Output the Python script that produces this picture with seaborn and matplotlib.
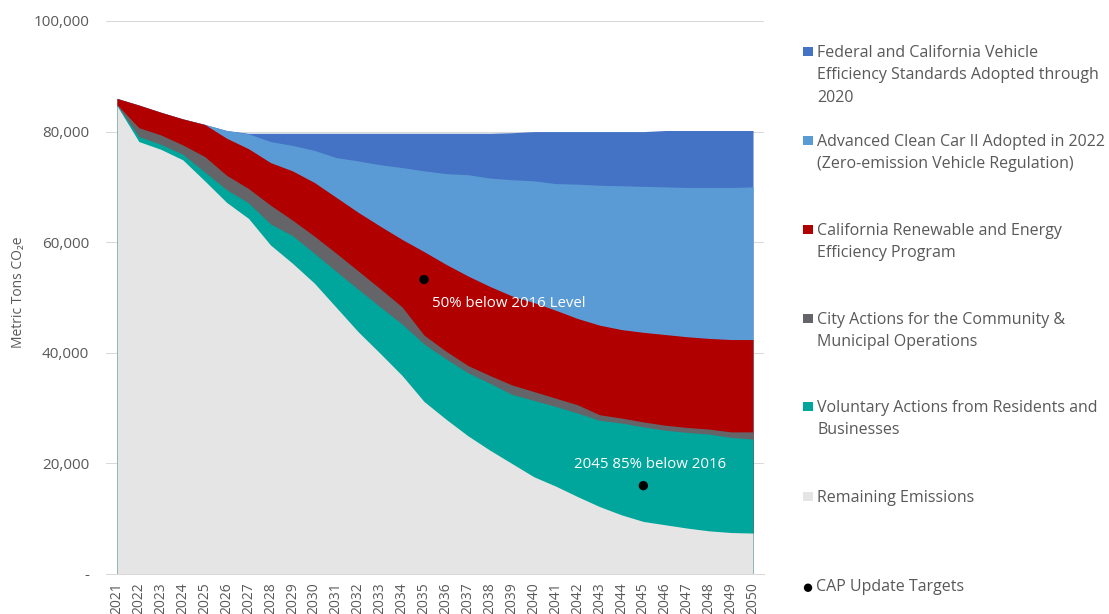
import numpy as np
import pandas as pd
import matplotlib
matplotlib.use("Agg")
import matplotlib.pyplot as plt
import seaborn as sns
from matplotlib.ticker import FuncFormatter, FixedLocator

# ---------------- data ----------------
years = list(range(2021, 2051))
remaining = [84700, 78200, 76800, 74900, 71100, 67200, 64300, 59500, 56200, 52600,
             48200, 43800, 39900, 35900, 31200, 28000, 25000, 22400, 20000, 17600,
             15900, 14000, 12200, 10700, 9500, 8900, 8300, 7800, 7500, 7400]
voluntary = [100, 900, 900, 1000, 1600, 2300, 2800, 3800, 5000, 5400,
             6500, 7700, 8400, 9300, 10400, 10900, 11400, 12100, 12500, 13800,
             14400, 15100, 15600, 16600, 17100, 17100, 17300, 17500, 17200, 17000]
city = [100, 1600, 1700, 1700, 2800, 2600, 2600, 3400, 2800, 3100,
        3300, 3300, 3300, 3100, 1600, 1400, 1300, 1400, 1700, 1600,
        1500, 1500, 1000, 900, 900, 900, 900, 900, 1000, 1300]
renewable = [1100, 4100, 4100, 4700, 5800, 6700, 7200, 7700, 8900, 9700,
             10100, 10600, 11300, 12200, 15100, 15700, 16200, 16100, 16100, 16100,
             15900, 15600, 16200, 16000, 16200, 16400, 16400, 16400, 16700, 16700]
acc2 = [0, 0, 0, 0, 0, 1400, 2700, 3800, 4600, 5800,
        7200, 9300, 11100, 13000, 14600, 16400, 18300, 19600, 21000, 22000,
        22900, 24300, 25300, 26000, 26400, 26700, 27000, 27300, 27500, 27600]
federal = [0, 0, 0, 0, 0, 0, 100, 1500, 2200, 3100,
           4400, 5000, 5700, 6200, 6800, 7300, 7500, 8100, 8500, 8900,
           9400, 9500, 9700, 9800, 9900, 10200, 10300, 10300, 10300, 10200]

target_years = [2035, 2045]
target_values = [53250, 15975]
target_labels = ["50% below 2016 Level", "2045 85% below 2016"]

series_labels = [
    "Remaining Emissions",
    "Voluntary Actions from Residents and\nBusinesses",
    "City Actions for the Community &\nMunicipal Operations",
    "California Renewable and Energy\nEfficiency Program",
    "Advanced Clean Car II Adopted in 2022\n(Zero-emission Vehicle Regulation)",
    "Federal and California Vehicle\nEfficiency Standards Adopted through\n2020",
]
target_legend = "CAP Update Targets"
y_ticks = [0, 20000, 40000, 60000, 80000, 100000]
y_label = "Metric Tons CO\u2082e"

series_colors = ["#e5e5e5", "#00a59b", "#646469", "#b00000", "#5b9bd5", "#4472c4"]
text_gray = "#595959"
grid_gray = "#d9d9d9"

df = pd.DataFrame({
    "remaining": remaining, "voluntary": voluntary, "city": city,
    "renewable": renewable, "acc2": acc2, "federal": federal,
}, index=years)
targets = pd.DataFrame({"year": target_years, "value": target_values})

# ---------------- style ----------------
sns.set_theme(style="white")
plt.rcParams["font.family"] = ["Open Sans", "DejaVu Sans"]

W, H = 1109, 614
fig = plt.figure(figsize=(W / 100, H / 100), dpi=100)
ax = fig.add_axes([106 / W, 1 - 574 / H, 658 / W, 553 / H])

# stacked areas drawn as cumulative fills (top layer first, to avoid seams)
cum = df.cumsum(axis=1)
handles = []
cols = list(df.columns)
for i in range(len(cols) - 1, -1, -1):
    h = ax.fill_between(df.index, 0, cum[cols[i]], color=series_colors[i],
                        linewidth=0, label=series_labels[i], zorder=2)
    handles.append(h)
handles = handles[::-1]  # bottom..top order

# targets
sns.scatterplot(data=targets, x="year", y="value", ax=ax, color="black",
                s=45, edgecolor="none", zorder=5, label=target_legend, legend=False)
dot_handle = ax.collections[-1]

ax.annotate(target_labels[0], xy=(target_years[0], target_values[0]),
            xytext=(6, -17), textcoords="offset points", ha="left", va="center",
            color="white", fontsize=10.8, zorder=6)
ax.annotate(target_labels[1], xy=(target_years[1], target_values[1]),
            xytext=(5, 15), textcoords="offset points", ha="center", va="center",
            color="white", fontsize=10.8, zorder=6)

# axes
ax.set_xlim(years[0] - 0.5, years[-1] + 0.5)
ax.set_ylim(0, 100000)
ax.yaxis.set_major_locator(FixedLocator(y_ticks))
ax.yaxis.set_major_formatter(FuncFormatter(lambda v, p: "-" if v == 0 else f"{v:,.0f}"))
ax.xaxis.set_minor_locator(FixedLocator([y - 0.5 for y in years] + [years[-1] + 0.5]))
ax.set_xticks(years)
ax.set_xticklabels([str(y) for y in years], rotation=90)

ax.grid(axis="y", color=grid_gray, linewidth=0.75, zorder=0)
ax.grid(axis="x", visible=False)
ax.set_axisbelow(True)
for s in ["left", "right", "top"]:
    ax.spines[s].set_visible(False)
ax.spines["bottom"].set_color(grid_gray)
ax.spines["bottom"].set_linewidth(0.75)

ax.tick_params(axis="y", length=0, pad=12, labelsize=11, labelcolor=text_gray)
ax.tick_params(axis="x", which="major", length=0, pad=6, labelsize=10, labelcolor=text_gray)
ax.tick_params(axis="x", which="minor", length=4.5, width=0.75, color=grid_gray, direction="out")

ax.set_xlabel("")
ax.set_ylabel(y_label, fontsize=10, color=text_gray)
ax.yaxis.set_label_coords(-0.121, 0.51)

# legend: one block per entry, handle aligned with the first text line
legend_order = [handles[5], handles[4], handles[3], handles[2], handles[1], handles[0], dot_handle]
legend_text = [series_labels[5], series_labels[4], series_labels[3], series_labels[2],
               series_labels[1], series_labels[0], target_legend]
first_line_y = [51, 140, 229, 318, 406, 496, 585]
leg_fs = 11.5
fs_px = leg_fs * 100 / 72
shift_pt = 1.7
for hnd, lab, yy in zip(legend_order, legend_text, first_line_y):
    is_dot = hnd is dot_handle
    top_px = yy - 0.403 * fs_px
    leg = fig.legend([hnd], [lab], loc="upper left",
                     bbox_to_anchor=(803 / W, 1 - top_px / H), frameon=False,
                     borderpad=0, borderaxespad=0, handlelength=0.63,
                     handleheight=0.5, handletextpad=0.25 if not is_dot else 0.2,
                     fontsize=leg_fs, labelcolor=text_gray, markerscale=0.9)
    for t in leg.get_texts():
        t.set_linespacing(1.56)
    for col in leg._legend_handle_box.get_children():
        for item in col.get_children():
            item.align = "top"
    lh = leg.legend_handles[0]
    if is_dot:
        offs = np.asarray(lh.get_offsets(), dtype=float)
        offs[:, 1] -= shift_pt
        lh.set_offsets(offs)
    else:
        lh.set_y(lh.get_y() - shift_pt)

fig.savefig("out.png", dpi=100)
